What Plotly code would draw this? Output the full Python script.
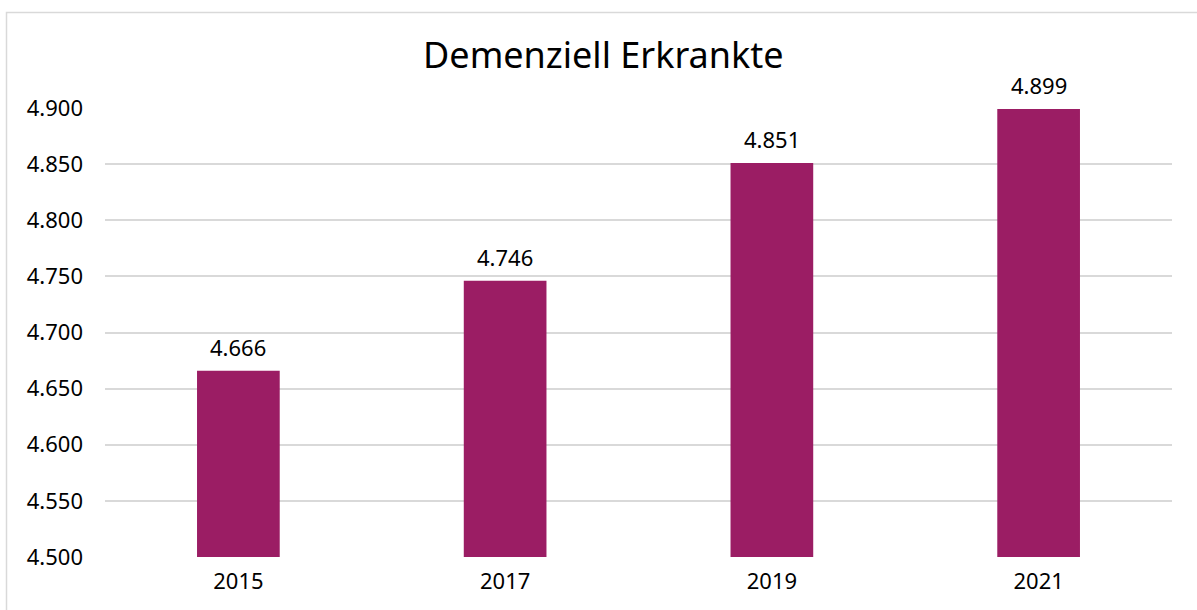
import plotly.graph_objects as go

years = ["2015", "2017", "2019", "2021"]
values = [4666, 4746, 4851, 4899]
tick_vals = [4500, 4550, 4600, 4650, 4700, 4750, 4800, 4850, 4900]

W, H = 1197, 610
ml, mr, mt, mb = 105, 25, 108, 53
pw, ph = W - ml - mr, H - mt - mb


def de(v):
    return f"{v:,}".replace(",", ".")


fig = go.Figure(go.Bar(
    x=years, y=values,
    marker=dict(color="#9B1D64", line=dict(width=0)),
    width=0.31,
    hoverinfo="x+y",
))

# data labels (category axis: annotation x is the category index)
for i, v in enumerate(values):
    fig.add_annotation(x=i, y=v, text=de(v), showarrow=False,
                       yanchor="bottom", yshift=7,
                       font=dict(size=22, color="#000000"))

fig.update_layout(
    width=W, height=H,
    margin=dict(l=ml, r=mr, t=mt, b=mb),
    separators=",.",
    paper_bgcolor="white", plot_bgcolor="white",
    font=dict(family="Noto Sans", color="#000000"),
    title=dict(text="Demenziell Erkrankte", x=0.504, xanchor="center",
               y=1 - 55 / H, yanchor="middle",
               font=dict(size=36, color="#000000")),
    showlegend=False,
)
fig.update_yaxes(range=[4500, 4900], tickvals=tick_vals, tickformat=",d",
                 showgrid=True, gridcolor="#d9d9d9", gridwidth=1.5,
                 zeroline=False, showline=False, ticks="",
                 ticklabelstandoff=21, tickfont=dict(size=22))
fig.update_xaxes(type="category", categoryorder="array", categoryarray=years,
                 range=[-0.5, len(years) - 0.5],
                 showgrid=False, showline=False, ticks="",
                 ticklabelstandoff=9, tickfont=dict(size=22))

# outer chart border (light gray)
bx = (6.5 - ml) / pw
by = 1 + (mt - 12.5) / ph
fig.add_shape(type="rect", xref="paper", yref="paper",
              x0=bx, x1=1.5, y0=-0.5, y1=by,
              line=dict(color="#d9d9d9", width=1.5), fillcolor="rgba(0,0,0,0)")

fig.write_html("out.html", config={"displayModeBar": False},
               post_script="document.body.style.margin='0';document.body.style.overflow='hidden';")
